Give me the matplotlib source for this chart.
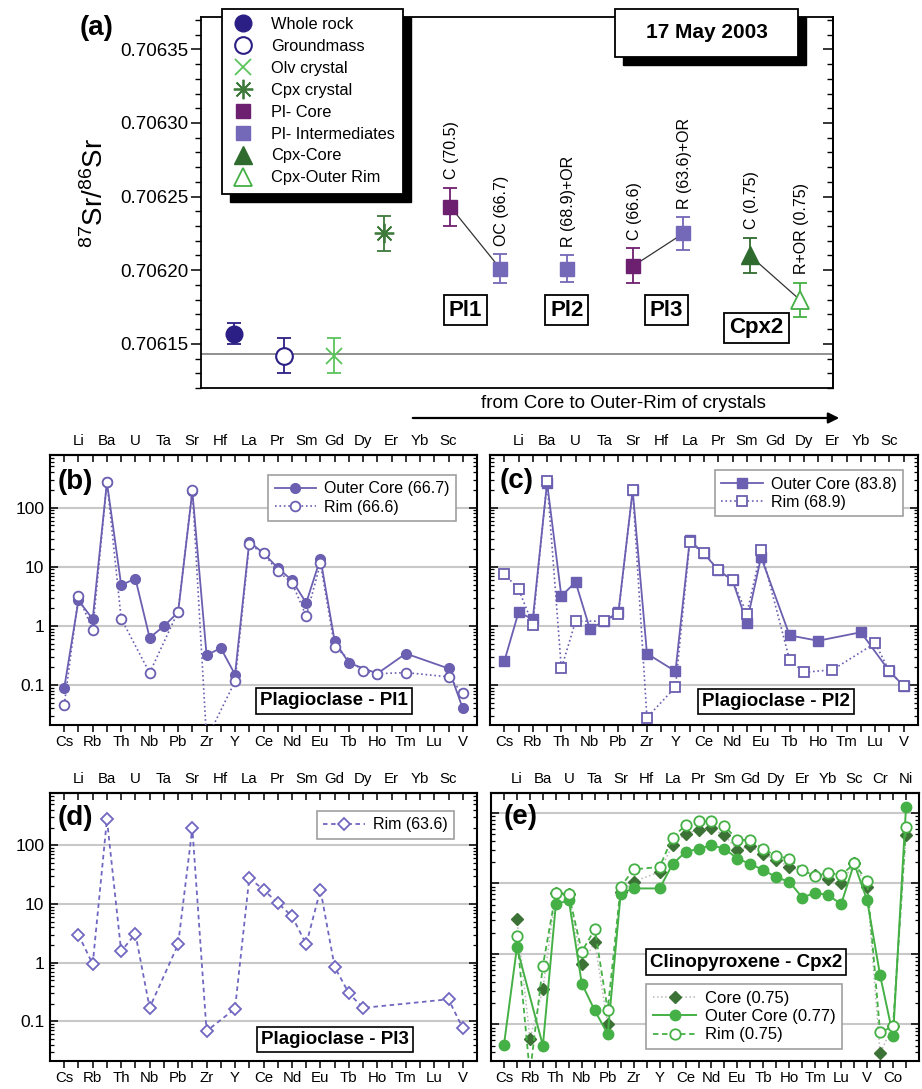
import numpy as np
import matplotlib
matplotlib.use('Agg')
import matplotlib.pyplot as plt
import matplotlib.transforms as mtransforms
from matplotlib.lines import Line2D
from matplotlib.patches import Rectangle, FancyArrowPatch
from matplotlib.ticker import MultipleLocator, FormatStrFormatter, LogLocator, NullFormatter

plt.rcParams['font.family'] = ['Liberation Sans', 'DejaVu Sans']
plt.rcParams['mathtext.fontset'] = 'custom'
plt.rcParams['mathtext.rm'] = 'Liberation Sans'
plt.rcParams['mathtext.it'] = 'Liberation Sans:italic'
plt.rcParams['mathtext.bf'] = 'Liberation Sans:bold'

N = None

# ---------------- (a) 87Sr/86Sr, 17 May 2003 ----------------
sr_kind = ['Whole rock', 'Groundmass', 'Olv crystal', 'Cpx crystal',
           'Pl- Core', 'Pl- Intermediates', 'Pl- Intermediates', 'Pl- Core',
           'Pl- Intermediates', 'Cpx-Core', 'Cpx-Outer Rim']
sr_pos = [0, 3, 6, 9, 13, 16, 20, 24, 27, 31, 34]
sr_ratio = [0.706157, 0.706142, 0.706142, 0.706225, 0.706243, 0.706201,
            0.706201, 0.706203, 0.706225, 0.706210, 0.706180]
sr_err = [0.0000074, 0.0000118, 0.0000118, 0.0000120, 0.0000130, 0.0000098,
          0.0000090, 0.0000120, 0.0000110, 0.0000120, 0.0000115]
sr_notes = [N, N, N, N, 'C (70.5)', 'OC (66.7)', 'R (68.9)+OR', 'C (66.6)',
            'R (63.6)+OR', 'C (0.75)', 'R+OR (0.75)']
sr_links = [(4, 5), (7, 8), (9, 10)]
groundmass_ref = 0.706143
crystal_names = ['Pl1', 'Pl2', 'Pl3', 'Cpx2']
sample_date = '17 May 2003'

# ---------------- (b)-(e) spider diagrams ----------------
elem_pl = ['Cs', 'Li', 'Rb', 'Ba', 'Th', 'U', 'Nb', 'Ta', 'Pb', 'Sr', 'Zr', 'Hf',
           'Y', 'La', 'Ce', 'Pr', 'Nd', 'Sm', 'Eu', 'Gd', 'Tb', 'Dy', 'Ho', 'Er',
           'Tm', 'Yb', 'Lu', 'Sc', 'V']
elem_cpx = elem_pl + ['Cr', 'Co', 'Ni']

pl1_outer = [0.089, 2.7, 1.3, 270, 4.9, 6.3, 0.63, 0.99, 1.7, 190, 0.32, 0.42,
             0.15, 26.5, 17, 9.6, 5.9, 2.45, 13.8, 0.55, 0.236, N, 0.156, N,
             0.34, N, N, 0.19, 0.040]
pl1_rim = [0.046, 3.2, 0.85, 277, 1.33, N, 0.16, N, 1.75, 199, 0.012, N,
           0.115, 23.9, 17, 8.4, 5.4, 1.46, 11.4, 0.44, N, 0.17, 0.155, N,
           0.162, N, N, 0.137, 0.072]

pl2_outer = [0.25, 1.7, 1.3, 265, 3.2, 5.5, 0.89, 1.2, 1.7, 197, 0.34, N,
             0.17, 28, 16.8, 8.8, 5.9, 1.14, 14.6, N, 0.69, N, 0.56, N,
             N, 0.78, N, 0.17, 0.096]
pl2_rim = [7.6, 4.2, 1.05, 283, 0.19, 1.2, N, 1.2, 1.6, 197, 0.028, N,
           0.092, 26, 16.8, 8.8, 5.9, 1.6, 18.9, N, 0.265, 0.164, N, 0.18,
           N, N, 0.51, 0.17, 0.096]

pl3_rim = [N, 3.0, 0.94, 277, 1.56, 3.1, 0.17, N, 2.05, 197, 0.068, N,
           0.164, 27.7, 17.5, 10.4, 6.2, 2.05, 17.5, 0.84, 0.30, 0.169, N, N,
           N, N, N, 0.237, 0.076]

cpx_core = [N, 3.1, 0.063, 0.316, 7.4, 7.0, 0.71, 1.46, 0.10, 7.6, 10.6, N,
            14.6, 35.6, 51, 58, 61, 48, 30, 33.7, 26, 21.4, 17.2, N,
            13.1, 11.5, 10.2, 19.2, 9.0, 0.039, 0.096, 49]
cpx_outer = [0.0515, 1.24, N, 0.05, 5.05, 5.8, 0.38, 0.158, 0.073, 7.2, 8.5, N,
             8.5, 18.8, 28, 31, 35, 31, 22.6, 18.8, 15.5, 12.2, 10.6, 6.3,
             7.4, 6.8, 5.1, 19.2, 5.8, 0.50, 0.069, 122]
cpx_rim = [N, 1.8, 0.02, 0.68, 7.4, 7.0, 1.08, 2.23, 0.16, 9.0, 15.8, N,
           17.2, 44.8, 67, 76, 76, 65, 42, 41, 31, 24.4, 22.6, 15.5,
           12.7, 14.2, 13.1, 19.2, 10.8, 0.077, 0.094, 63]

# ---------------- styles ----------------
INDIGO = '#2b1f85'
PL_CORE = '#6e2070'
PL_INT = '#7468b8'
OLV = '#5cc45c'
CPX_DARK = '#3e7a3a'
CPX_LIGHT = '#45b045'
SPIDER = '#6a5fb0'
SPIDER_D = '#7068c0'
GRID = '#c8c8c8'

kind_style = {
    'Whole rock': dict(marker='o', color=INDIGO, mfc=INDIGO, ms=12),
    'Groundmass': dict(marker='o', color=INDIGO, mfc='white', ms=12, mew=1.5),
    'Olv crystal': dict(marker='x', color=OLV, mfc=OLV, ms=12, mew=1.3),
    'Cpx crystal': dict(marker=(8, 2, 0), color=CPX_DARK, mfc=CPX_DARK, ms=14, mew=1.3),
    'Pl- Core': dict(marker='s', color=PL_CORE, mfc=PL_CORE, ms=10),
    'Pl- Intermediates': dict(marker='s', color=PL_INT, mfc=PL_INT, ms=10),
    'Cpx-Core': dict(marker='^', color='#2f6b2f', mfc='#2f6b2f', ms=13),
    'Cpx-Outer Rim': dict(marker='^', color=CPX_LIGHT, mfc='white', ms=13, mew=1.3),
}

W, H = 922, 1089
fig = plt.figure(figsize=(W / 100, H / 100), dpi=100)


def px_axes(l, t, r, b):
    return fig.add_axes([l / W, 1 - b / H, (r - l) / W, (b - t) / H])


def px_rect(l, t, r, b, **kw):
    rect = Rectangle((l / W, 1 - b / H), (r - l) / W, (b - t) / H,
                     transform=fig.transFigure, **kw)
    fig.add_artist(rect)
    return rect


# ================= panel (a) =================
axa = px_axes(201, 17, 833, 388)
axa.set_xlim(-2, 36)
axa.set_ylim(0.706120, 0.706372)
axa.axhline(groundmass_ref, color='#888888', lw=1.3, zorder=1)

for i in range(len(sr_pos)):
    st = dict(kind_style[sr_kind[i]])
    col = st.pop('color')
    axa.errorbar(sr_pos[i], sr_ratio[i], yerr=sr_err[i], fmt='none',
                 ecolor=col, elinewidth=1.3, capsize=5, capthick=1.3, zorder=3)
    axa.plot(sr_pos[i], sr_ratio[i], linestyle='none', color=col,
             mec=col, zorder=4, **st)
    if sr_notes[i]:
        axa.annotate(sr_notes[i], xy=(sr_pos[i], sr_ratio[i] + sr_err[i]),
                     xytext=(1, 6), textcoords='offset points', rotation=90,
                     ha='center', va='bottom', fontsize=11.5)

for a, b in sr_links:
    axa.plot([sr_pos[a], sr_pos[b]], [sr_ratio[a], sr_ratio[b]],
             color='#333333', lw=0.9, zorder=2)

blend = mtransforms.blended_transform_factory(axa.transData, axa.transAxes)
for name, xx, yy in zip(crystal_names, [13.9, 20.0, 26.0, 31.4],
                        [0.21, 0.21, 0.21, 0.162]):
    axa.text(xx, yy, name, transform=blend, ha='center', va='center',
             fontsize=16, fontweight='bold',
             bbox=dict(boxstyle='square,pad=0.22', fc='white', ec='black', lw=1.3))

axa.yaxis.set_major_locator(MultipleLocator(0.00005))
axa.yaxis.set_minor_locator(MultipleLocator(0.00001))
axa.yaxis.set_major_formatter(FormatStrFormatter('%.5f'))
axa.tick_params(axis='y', which='both', left=True, right=False, direction='out',
                labelsize=13.5, pad=2)
axa.tick_params(axis='y', which='major', length=7, width=1.1)
axa.tick_params(axis='y', which='minor', length=4, width=1.0)
axa.set_xticks([])
axr = axa.secondary_yaxis('right')
axr.yaxis.set_major_locator(MultipleLocator(0.00005))
axr.yaxis.set_minor_locator(MultipleLocator(0.00001))
axr.tick_params(axis='y', which='both', direction='in', labelright=False)
axr.tick_params(axis='y', which='major', length=7, width=1.1)
axr.tick_params(axis='y', which='minor', length=4, width=1.0)
for s in axa.spines.values():
    s.set_linewidth(1.3)
axr.spines['right'].set_linewidth(1.3)

fig.text(95 / W, 1 - 193 / H, r'$\mathregular{^{87}Sr/^{86}Sr}$', rotation=90,
         ha='center', va='center', fontsize=20)
fig.text(80 / W, 1 - 28 / H, '(a)', ha='left', va='center', fontsize=20,
         fontweight='bold')

# legend with heavy black shadow
leg_kinds = ['Whole rock', 'Groundmass', 'Olv crystal', 'Cpx crystal',
             'Pl- Core', 'Pl- Intermediates', 'Cpx-Core', 'Cpx-Outer Rim']
handles = []
for k in leg_kinds:
    st = dict(kind_style[k])
    col = st.pop('color')
    handles.append(Line2D([], [], linestyle='none', color=col, mec=col, **st))
leg = fig.legend(handles, leg_kinds, loc='upper left',
                 bbox_to_anchor=(222 / W, 1 - 9 / H), borderaxespad=0,
                 fontsize=11.8, labelspacing=0.42, handletextpad=0.9,
                 borderpad=0.5, handlelength=1.6, fancybox=False, framealpha=1,
                 edgecolor='black')
leg.get_frame().set_linewidth(1.3)
leg.set_zorder(6)

# date box
px_rect(623, 17, 806, 65, fc='black', ec='black', zorder=5)
px_rect(615, 9, 798, 57, fc='white', ec='black', lw=1.3, zorder=6)
fig.text((615 + 798) / 2 / W, 1 - 33 / H, sample_date, ha='center', va='center',
         fontsize=15, fontweight='bold', zorder=7)

# arrow under panel (a)
fig.text(623 / W, 1 - 404 / H, 'from Core to Outer-Rim of crystals',
         ha='center', va='center', fontsize=13.5)
fig.add_artist(FancyArrowPatch((410 / W, 1 - 418 / H), (842 / W, 1 - 418 / H),
                               transform=fig.transFigure, arrowstyle='-|>',
                               mutation_scale=16, lw=1.6, color='black'))


# ================= spider panels =================
def plot_series(ax, vals, **kw):
    x = np.array([i for i, v in enumerate(vals) if v is not None])
    y = np.array([v for v in vals if v is not None], dtype=float)
    return ax.plot(x, y, **kw)[0]


def setup_spider(ax, elems, ylim, show_ylabels):
    n = len(elems)
    idx = np.arange(n)
    ax.set_yscale('log')
    ax.set_xlim(-1, n)
    ax.set_ylim(*ylim)
    ax.set_yticks([0.1, 1, 10, 100])
    if show_ylabels:
        ax.set_yticklabels(['0.1', '1', '10', '100'])
    else:
        ax.set_yticklabels([])
    ax.yaxis.set_minor_locator(LogLocator(base=10, subs=np.arange(2, 10)))
    ax.yaxis.set_minor_formatter(NullFormatter())
    ax.tick_params(axis='y', which='both', direction='in', left=True, right=True,
                   labelsize=12.5, pad=4)
    ax.tick_params(axis='y', which='major', length=6, width=1.1)
    ax.tick_params(axis='y', which='minor', length=3, width=0.9)
    ax.grid(axis='y', which='major', color=GRID, lw=1.5)
    ax.set_axisbelow(True)
    ax.set_xticks(idx[::2])
    ax.set_xticklabels(elems[::2])
    ax.set_xticks(idx[1::2], minor=True)
    ax.tick_params(axis='x', which='both', direction='out', length=5, width=1.1,
                   labelsize=10.8, pad=2)
    top = ax.secondary_xaxis('top')
    top.set_xticks(idx[1::2])
    top.set_xticklabels(elems[1::2])
    top.set_xticks(idx[::2], minor=True)
    top.tick_params(axis='x', which='both', direction='in', length=5, width=1.1,
                    labelsize=10.8, pad=5)
    for s in ax.spines.values():
        s.set_linewidth(1.5)
    top.spines['top'].set_linewidth(1.5)


def name_box(ax, text, x, y):
    ax.text(x, y, text, transform=ax.transAxes, ha='center', va='center',
            fontsize=13.5, fontweight='bold', zorder=6,
            bbox=dict(boxstyle='square,pad=0.22', fc='white', ec='black', lw=1.2))


def panel_letter(ax, text, x, y):
    ax.text(x, y, text, transform=ax.transAxes, ha='left', va='center',
            fontsize=20, fontweight='bold', zorder=6)


def spider_legend(ax, anchor, fontsize=11.5):
    lg = ax.legend(loc='upper right', bbox_to_anchor=anchor, fontsize=fontsize,
                   fancybox=False, framealpha=1, edgecolor='#a0a0a0',
                   handlelength=2.6, labelspacing=0.2, borderpad=0.4,
                   handletextpad=0.5, borderaxespad=0)
    lg.get_frame().set_linewidth(1.2)
    lg.set_zorder(7)


PL_YLIM = (0.021, 780)

# (b) Pl1
axb = px_axes(50, 455, 477, 725)
setup_spider(axb, elem_pl, PL_YLIM, True)
plot_series(axb, pl1_outer, color=SPIDER, lw=1.3, ls='-', marker='o', ms=7,
            mfc=SPIDER, mec=SPIDER, label='Outer Core (66.7)', zorder=3)
plot_series(axb, pl1_rim, color=SPIDER, lw=1.2, ls=':', marker='o', ms=7,
            mfc='white', mec=SPIDER, mew=1.3, label='Rim (66.6)', zorder=4)
spider_legend(axb, (0.951, 0.926))
name_box(axb, 'Plagioclase - Pl1', 0.666, 0.089)
panel_letter(axb, '(b)', 0.019, 0.90)

# (c) Pl2
axc = px_axes(490, 455, 918, 725)
setup_spider(axc, elem_pl, PL_YLIM, False)
plot_series(axc, pl2_outer, color=SPIDER, lw=1.3, ls='-', marker='s', ms=6.5,
            mfc=SPIDER, mec=SPIDER, label='Outer Core (83.8)', zorder=3)
plot_series(axc, pl2_rim, color=SPIDER, lw=1.2, ls=':', marker='s', ms=6.5,
            mfc='white', mec=SPIDER, mew=1.3, label='Rim (68.9)', zorder=4)
spider_legend(axc, (0.965, 0.944))
name_box(axc, 'Plagioclase - Pl2', 0.669, 0.087)
panel_letter(axc, '(c)', 0.023, 0.904)

# (d) Pl3
axd = px_axes(50, 793, 477, 1061)
setup_spider(axd, elem_pl, PL_YLIM, True)
plot_series(axd, pl3_rim, color=SPIDER_D, lw=1.3, ls=(0, (2.5, 2)), marker='D',
            ms=6, mfc='white', mec=SPIDER_D, mew=1.3, label='Rim (63.6)', zorder=4)
spider_legend(axd, (0.946, 0.933))
name_box(axd, 'Plagioclase - Pl3', 0.667, 0.080)
panel_letter(axd, '(d)', 0.019, 0.907)

# (e) Cpx2
axe = px_axes(491, 793, 919, 1061)
setup_spider(axe, elem_cpx, (0.0303, 192), False)
plot_series(axe, cpx_core, color='#b8b8b8', lw=1.1, ls=':', marker='D', ms=6.5,
            mfc='#3d7236', mec='#3d7236', label='Core (0.75)', zorder=3)
plot_series(axe, cpx_outer, color=CPX_LIGHT, lw=1.4, ls='-', marker='o', ms=7.5,
            mfc=CPX_LIGHT, mec=CPX_LIGHT, label='Outer Core (0.77)', zorder=4)
plot_series(axe, cpx_rim, color=CPX_LIGHT, lw=1.3, ls=(0, (3, 2)), marker='o',
            ms=7.5, mfc='white', mec=CPX_LIGHT, mew=1.3, label='Rim (0.75)', zorder=5)
spider_legend(axe, (0.820, 0.287), fontsize=12)
name_box(axe, 'Clinopyroxene - Cpx2', 0.596, 0.369)
panel_letter(axe, '(e)', 0.030, 0.912)

# shadow behind the panel (a) legend
fig.canvas.draw()
bb = leg.get_window_extent()
inv = fig.transFigure.inverted()
(x0, y0), (x1, y1) = inv.transform([(bb.x0 + 8, bb.y0 - 8), (bb.x1 + 8, bb.y1 - 8)])
fig.add_artist(Rectangle((x0, y0), x1 - x0, y1 - y0, transform=fig.transFigure,
                         fc='black', ec='black', zorder=5))

fig.savefig('out.png', dpi=100)
